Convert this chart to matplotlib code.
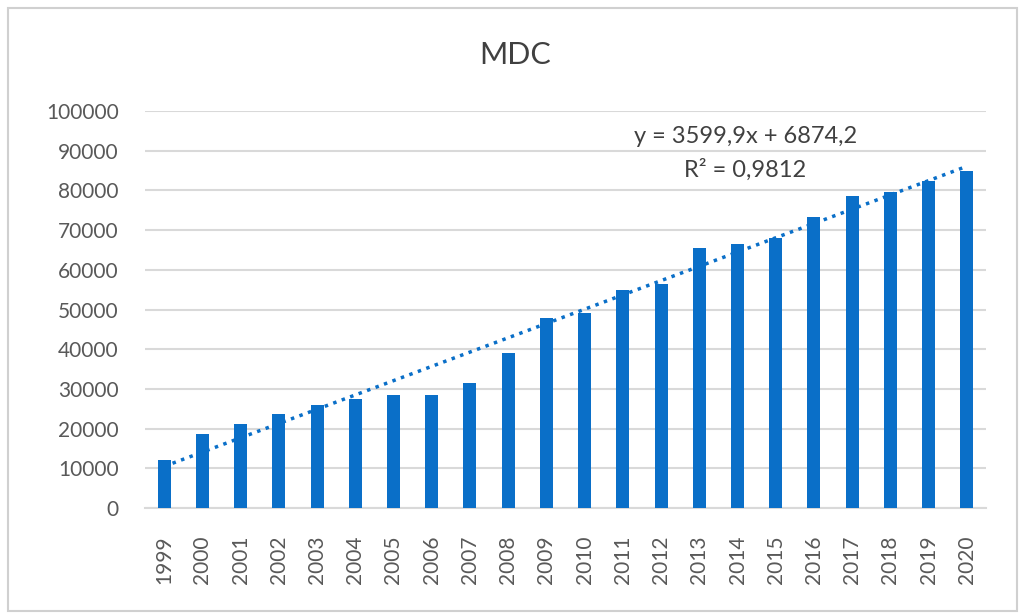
import numpy as np
import matplotlib.pyplot as plt
from matplotlib.patches import Rectangle

# data
years = [str(y) for y in range(1999, 2021)]
mdc = [12100, 18600, 21100, 23800, 25900, 27400, 28500, 28500, 31600, 39000,
       47900, 49000, 54800, 56500, 65400, 66400, 68100, 73300, 78600, 79600,
       82400, 84900]
# linear trend as printed on the chart
slope = 3599.9
intercept = 6874.2
eq_text = 'y = 3599,9x + 6874,2'
r2_text = 'R² = 0,9812'

blue = '#0A6FC8'
grid = '#d9d9d9'
txt = '#595959'
plt.rcParams['font.family'] = ['Lato', 'DejaVu Sans']

fig = plt.figure(figsize=(10.24, 6.14), dpi=100)
fig.patches.append(Rectangle((8/1024, 3/614), 1009/1024, 603/614, transform=fig.transFigure,
                             fill=False, edgecolor='#d0d0d0', linewidth=1.5))
ax = fig.add_axes([145/1024, 1 - 508/614, 841/1024, 397/614])

x = np.arange(len(years))
ax.bar(x, mdc, width=0.34, color=blue, zorder=3)

# trend line (x = 1 for first year)
t = x + 1
ax.plot(x, slope * t + intercept, color=blue, lw=2.5,
        linestyle=(0, (1, 1.6)), dash_capstyle='butt', zorder=4)

ax.set_xlim(-0.5, len(years) - 0.5)
ax.set_ylim(0, 100000)
ax.set_yticks(np.arange(0, 100001, 10000))
ax.set_yticklabels([str(v) for v in range(0, 100001, 10000)])
ax.set_xticks(x)
ax.set_xticklabels(years, rotation=90)
ax.tick_params(axis='x', length=0, pad=20, labelsize=15, labelcolor=txt)
ax.tick_params(axis='y', length=0, pad=19, labelsize=15, labelcolor=txt)
ax.grid(axis='y', color=grid, lw=1.5, zorder=0)
for s in ['top', 'right', 'left']:
    ax.spines[s].set_visible(False)
ax.spines['bottom'].set_color(grid)
ax.spines['bottom'].set_linewidth(1.5)

fig.text(515/1024, 1 - 55/614, 'MDC', ha='center', va='center', fontsize=22, color='#404040')

ax.text(0.714, 0.935, eq_text, transform=ax.transAxes, ha='center', va='center',
        fontsize=17, color='#404040', zorder=5,
        bbox=dict(facecolor='white', edgecolor='none', pad=1))
ax.text(0.714, 0.852, r2_text, transform=ax.transAxes, ha='center', va='center',
        fontsize=17, color='#404040', zorder=5,
        bbox=dict(facecolor='white', edgecolor='none', pad=1))

fig.savefig('out.png', dpi=100)
